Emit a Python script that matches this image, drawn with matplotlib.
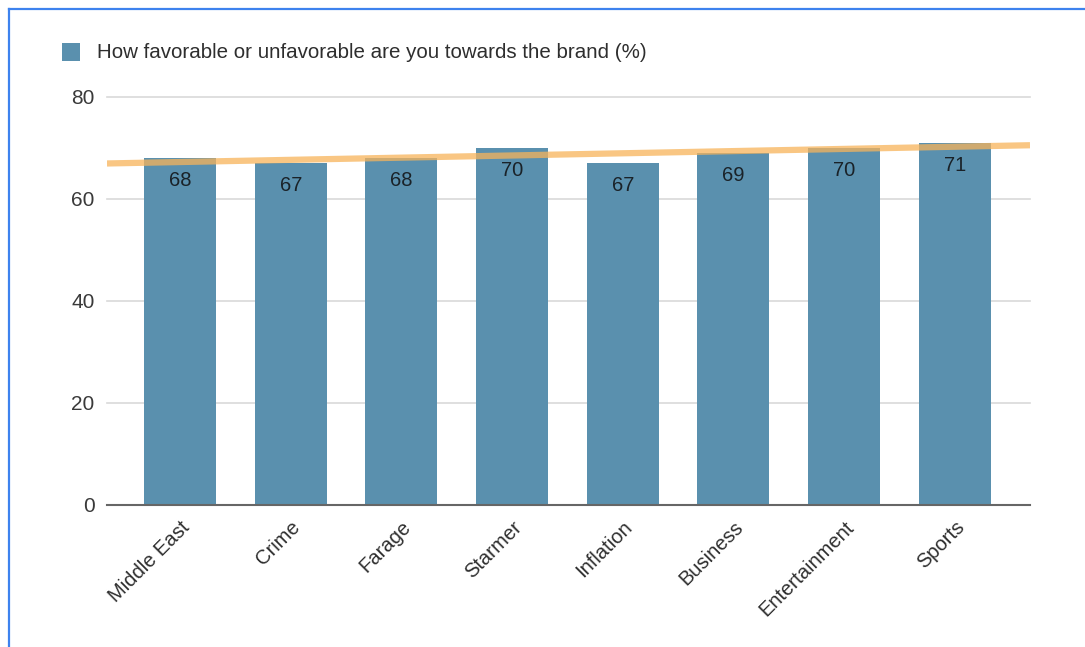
import numpy as np
import matplotlib
matplotlib.use("Agg")
import matplotlib.pyplot as plt
from matplotlib.patches import Rectangle
from matplotlib.lines import Line2D

plt.rcParams['font.family'] = ['Liberation Sans', 'DejaVu Sans']

topics = ["Middle East", "Crime", "Farage", "Starmer", "Inflation", "Business", "Entertainment", "Sports"]
favorable = [68, 67, 68, 70, 67, 69, 70, 71]
series_name = "How favorable or unfavorable are you towards the brand (%)"
yticks = [0, 20, 40, 60, 80]

bar_color = '#5a90ae'
trend_color = '#f7b45a'

W, H = 1085, 647
fig = plt.figure(figsize=(W / 100, H / 100), dpi=100)
ax = fig.add_axes([107 / W, 1 - 505 / H, (1030 - 107) / W, (505 - 97) / H])

x = np.arange(len(topics))
ax.bar(x, favorable, width=0.65, color=bar_color, zorder=2)

# value labels just under the top of each bar
for xi, v in zip(x, favorable):
    ax.annotate(str(v), (xi, v), xytext=(0, -16), textcoords='offset points',
                ha='center', va='center', fontsize=14.5, color='#1a2228',
                fontweight='medium', zorder=4)

# linear trendline across the whole axis
xlim = (-0.66, len(topics) - 1 + 0.68)
k, b = np.polyfit(x, favorable, 1)
tx = np.array(xlim)
ax.plot(tx, k * tx + b, color=trend_color, lw=4.5, alpha=0.75, zorder=3,
        solid_capstyle='butt')

ax.set_xlim(*xlim)
ax.set_ylim(0, 80)
ax.set_yticks(yticks)
ax.set_xticks(x)
ax.set_xticklabels(topics, rotation=45, ha='right', rotation_mode='anchor',
                   fontsize=14.5, color='#2e2e2e')
for lbl in ax.get_xticklabels():
    lbl.set_x(lbl.get_position()[0])
ax.tick_params(axis='x', length=0, pad=9)
ax.tick_params(axis='y', length=0, pad=9, labelsize=15, labelcolor='#3a3a3a')
ax.yaxis.grid(True, color='#d9d9d9', lw=1.2, zorder=0)
for gl in ax.get_ygridlines():
    gl.set_clip_on(False)
for s in ['top', 'right', 'left']:
    ax.spines[s].set_visible(False)
ax.spines['bottom'].set_color('#666666')
ax.spines['bottom'].set_linewidth(1.5)
ax.spines['bottom'].set_zorder(5)

# legend
fig.patches.append(Rectangle((62 / W, 1 - 61 / H), 18 / W, 18 / H,
                             transform=fig.transFigure, facecolor=bar_color,
                             edgecolor='none'))
fig.text(97 / W, 1 - 52 / H, series_name, fontsize=14.8, color='#2e2e2e',
         va='center', ha='left')

# blue frame on top and left
fig.add_artist(Line2D([8.5 / W, 1], [1 - 8.5 / H, 1 - 8.5 / H],
                      transform=fig.transFigure, color='#3d82ee', lw=1.6))
fig.add_artist(Line2D([8.5 / W, 8.5 / W], [0, 1 - 8.5 / H],
                      transform=fig.transFigure, color='#3d82ee', lw=1.6))

fig.savefig("out.png", dpi=100)
